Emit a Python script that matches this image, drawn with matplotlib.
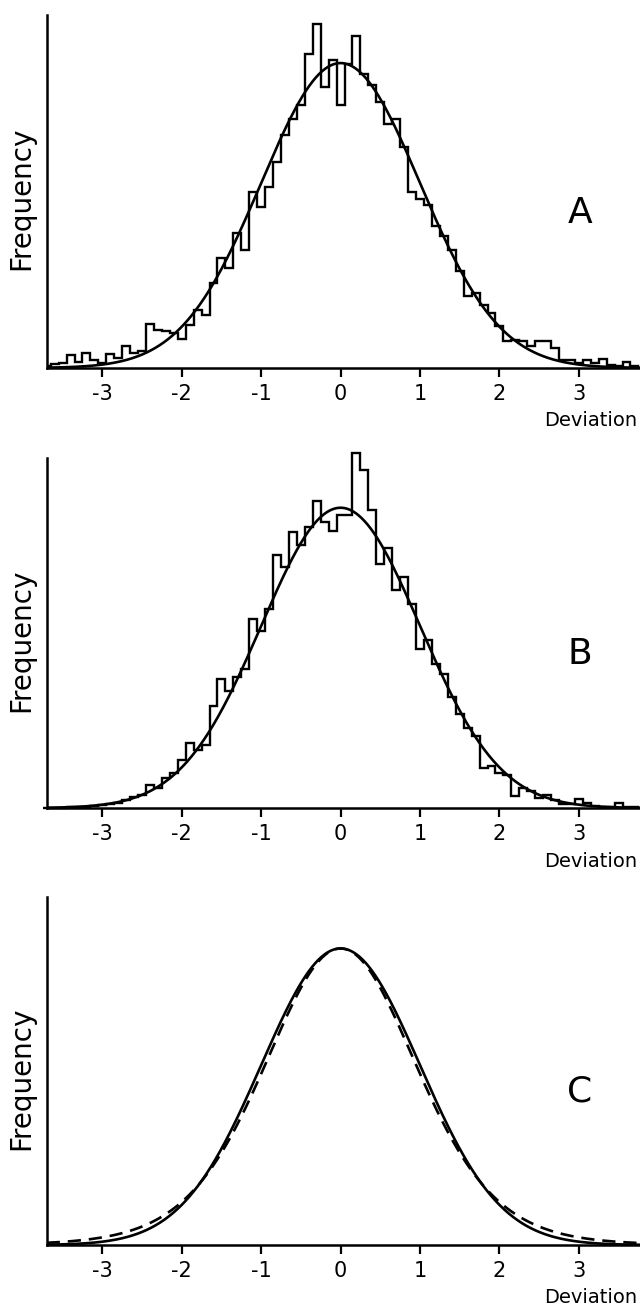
import math
import numpy as np
import matplotlib
matplotlib.use("Agg")
import matplotlib.pyplot as plt

# bin centres of the histograms (width 0.1)
bin_centers = np.round(np.arange(-37, 38) / 10.0, 1)

# panel A histogram frequencies
freq_a = [2, 4, 5, 13, 6, 15, 8, 5,
          14, 10, 22, 15, 17, 44, 38, 37, 35, 29,
          43, 58, 53, 85, 110, 100, 135, 118, 175, 160,
          180, 205, 232, 248, 262, 313, 343, 280, 307, 262,
          303, 331, 293, 282, 265, 243, 248, 220, 175, 168,
          162, 142, 132, 118, 97, 72, 75, 63, 55, 42,
          27, 28, 27, 22, 27, 27, 20, 8, 8, 5,
          8, 5, 9, 3, 2, 6, 2]

# panel B histogram frequencies
freq_b = [0.5, 0.5, 0.5, 1, 1, 1.5, 2, 3,
          4, 5, 8, 11, 13, 23, 20, 30, 35, 48,
          65, 58, 63, 103, 130, 118, 132, 140, 190, 178,
          200, 254, 242, 278, 265, 283, 309, 288, 279, 295,
          295, 357, 340, 300, 245, 262, 219, 232, 205, 160,
          169, 145, 135, 112, 95, 80, 72, 40, 42, 35,
          33, 12, 20, 17, 10, 13, 8, 4, 4, 9,
          5, 2, 1, 1, 5, 1, 1]

# fitted curves: normal (mean, sd, peak height); panel C dashed is a t with 10 df
peak_a, peak_b, peak_c = 304, 302, 300
t_df = 10

xticks = [-3, -2, -1, 0, 1, 2, 3]
XMIN, XMAX = -3.70, 3.77
YTOP = 352


def normal_curve(x, peak, mu=0.0, sd=1.0):
    return peak * np.exp(-0.5 * ((x - mu) / sd) ** 2)


def t_curve(x, peak, df):
    c = math.gamma((df + 1) / 2) / (math.sqrt(df * math.pi) * math.gamma(df / 2))
    s = c / (1 / math.sqrt(2 * math.pi))  # same height at the mode as the normal
    u = x / s
    return peak * (1 + u ** 2 / df) ** (-(df + 1) / 2)


def setup(ax, letter):
    for side in ("top", "right"):
        ax.spines[side].set_visible(False)
    for side in ("left", "bottom"):
        ax.spines[side].set_linewidth(1.8)
    ax.set_xlim(XMIN, XMAX)
    ax.set_ylim(0, YTOP)
    ax.set_yticks([])
    ax.set_xticks(xticks)
    ax.set_xticklabels([str(t) for t in xticks])
    ax.tick_params(axis="x", direction="out", length=6.5, width=1.6,
                   labelsize=15, pad=5)
    ax.annotate("Frequency", xy=(0, 0.5), xycoords="axes fraction",
                xytext=(-25, -7), textcoords="offset pixels",
                rotation=90, ha="center", va="center", fontsize=20)
    ax.annotate("Deviation", xy=(1, 0), xycoords="axes fraction",
                xytext=(-3, -53), textcoords="offset pixels",
                ha="right", va="center", fontsize=14)
    ax.text(0.899, 0.44, letter, transform=ax.transAxes,
            ha="center", va="center", fontsize=26)


fig = plt.figure(figsize=(6.4, 13.09), dpi=100)
ax_a = fig.add_axes([0.073, 0.7189, 0.927, 0.2697])
ax_b = fig.add_axes([0.073, 0.3827, 0.927, 0.2674])
ax_c = fig.add_axes([0.073, 0.0489, 0.927, 0.2658])

edges = np.append(bin_centers - 0.05, bin_centers[-1] + 0.05)
xs = np.linspace(XMIN, XMAX, 800)

ax_a.stairs(freq_a, edges, color="black", lw=1.7)
ax_a.plot(xs, normal_curve(xs, peak_a), color="black", lw=1.9)
setup(ax_a, "A")

ax_b.stairs(freq_b, edges, color="black", lw=1.7, clip_on=False)
ax_b.plot(xs, normal_curve(xs, peak_b), color="black", lw=1.9)
setup(ax_b, "B")

ax_c.plot(xs, normal_curve(xs, peak_c), color="black", lw=1.9)
ax_c.plot(xs, t_curve(xs, peak_c, t_df), color="black", lw=1.9,
          dashes=(5, 3))
setup(ax_c, "C")

fig.savefig("out.png", dpi=100)
